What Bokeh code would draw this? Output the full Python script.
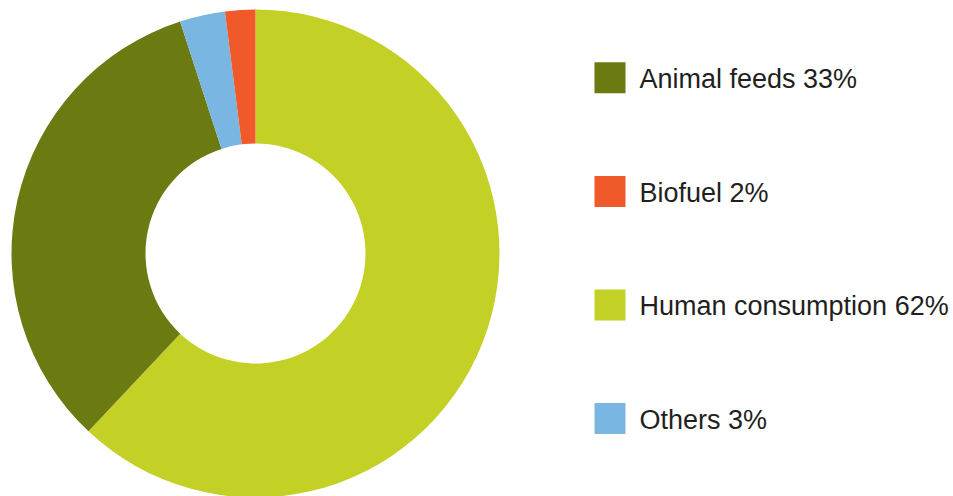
from bokeh.plotting import figure
from bokeh.models import Range1d, ColumnDataSource
from bokeh.core.properties import value
from bokeh.embed import file_html
from bokeh.resources import INLINE
import math

categories = ["Human consumption", "Animal feeds", "Others", "Biofuel"]
shares = [62, 33, 3, 2]
colors = ["#C3D026", "#6C7A12", "#7AB6E2", "#F05A2A"]

legend_order = ["Animal feeds", "Biofuel", "Human consumption", "Others"]
legend_labels = ["Animal feeds 33%", "Biofuel 2%", "Human consumption 62%", "Others 3%"]

W, H = 953, 496
p = figure(width=W, height=H, output_backend="svg", toolbar_location=None,
           x_range=Range1d(0, W), y_range=Range1d(0, H), min_border=0,
           outline_line_color=None)
p.axis.visible = False
p.grid.visible = False

# wedges, clockwise from 12 o'clock
total = sum(shares)
starts, ends = [], []
acc = 0.0
for s in shares:
    a0 = math.pi / 2 - 2 * math.pi * acc / total
    acc += s
    a1 = math.pi / 2 - 2 * math.pi * acc / total
    starts.append(a1)
    ends.append(a0)
src = ColumnDataSource(dict(start=starts, end=ends, color=colors))
cx, cy = 255, H - 253
p.annular_wedge(x=cx, y=cy, inner_radius=110, outer_radius=244,
                start_angle="start", end_angle="end", fill_color="color",
                line_color=None, source=src)

# legend
ys = [H - 77.3, H - 191, H - 304.5, H - 418]
lc = [colors[categories.index(c)] for c in legend_order]
p.rect(x=[609.5] * 4, y=ys, width=31, height=31, fill_color=lc, line_color=None)
p.text(x=[639] * 4, y=[y - 1 for y in ys], text=legend_labels, text_font=value("Liberation Sans"),
       text_font_size="27px", text_color="#231F20", text_baseline="middle", text_align="left")

open("out.html", "w").write(file_html(p, INLINE))
